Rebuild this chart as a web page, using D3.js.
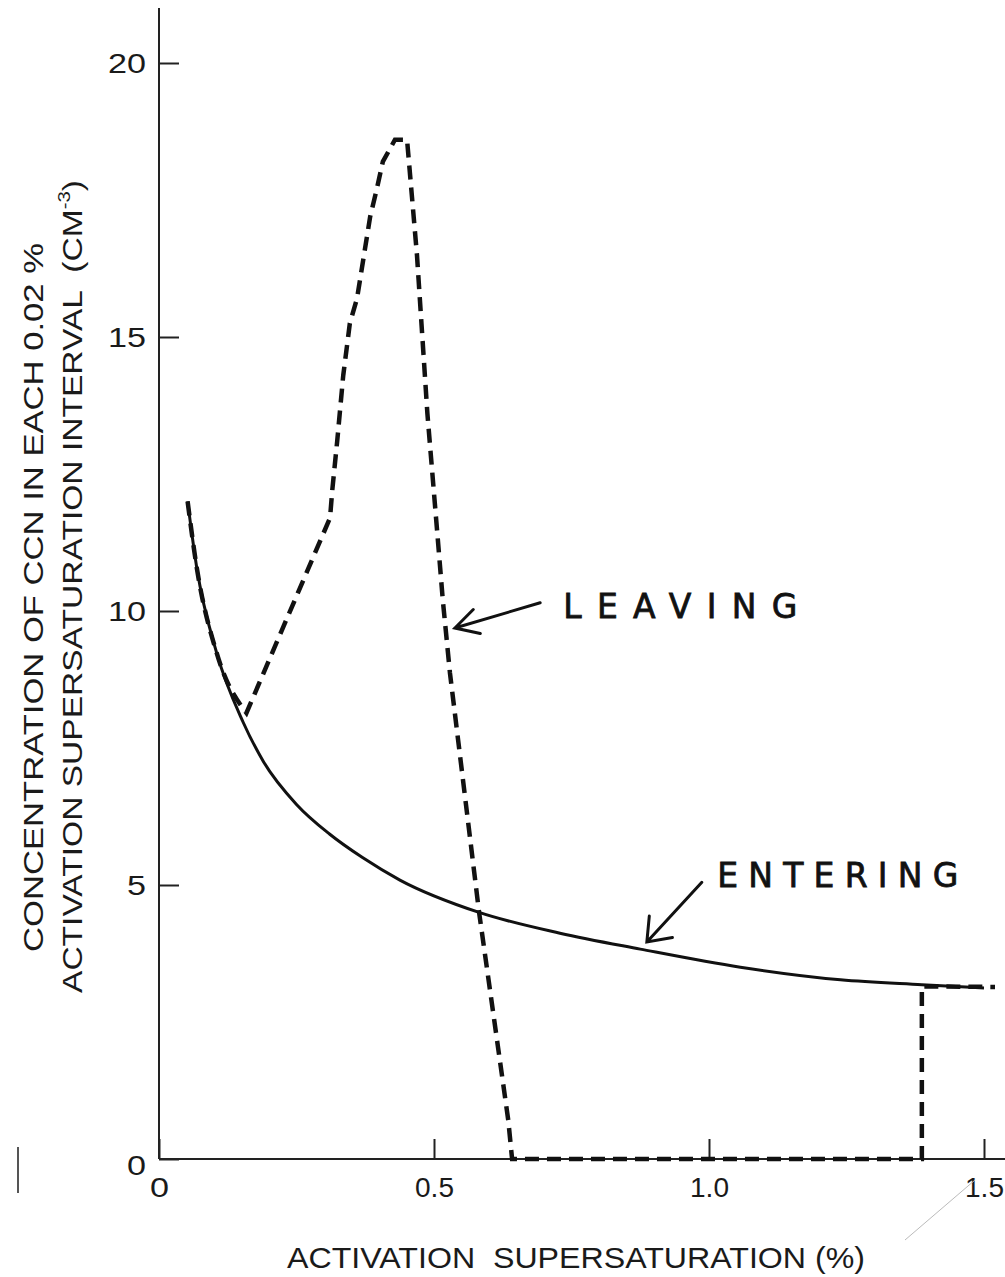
<!DOCTYPE html>
<html>
<head>
<meta charset="utf-8">
<script src="https://cdn.jsdelivr.net/npm/d3@7"></script>
<style>
body{margin:0;background:#fff;}
text{font-family:"Liberation Sans",Arial,sans-serif;fill:#1a1a1a;}
.hand{font-family:"DejaVu Sans",sans-serif;stroke:#111;stroke-width:0.8px;fill:#111;}
</style>
</head>
<body>
<div id="chart"></div>
<script>
// eixos
var ticksX = [0, 0.5, 1.0, 1.5];
var ticksY = [0, 5, 10, 15, 20];

// curva "entering" (linha cheia)
var enteringS = [0.052, 0.0685, 0.105, 0.153, 0.19, 0.25, 0.31, 0.37, 0.438, 0.582, 0.729, 0.875, 1.057, 1.239, 1.387, 1.5];
var enteringV = [12.0, 10.8, 9.23, 7.97, 7.25, 6.47, 5.93, 5.5, 5.09, 4.5, 4.12, 3.83, 3.5, 3.27, 3.18, 3.12];

// curva "leaving" (tracejada)
var leavingS = [0.052, 0.0685, 0.105, 0.159, 0.311, 0.315, 0.324, 0.335, 0.347, 0.36, 0.384, 0.396, 0.407, 0.429, 0.451, 0.469, 0.488, 0.507, 0.516, 0.529, 0.582, 0.635, 0.642, 1.387, 1.387, 1.52];
var leavingV = [12.0, 10.8, 9.23, 8.14, 11.7, 12.2, 13.1, 14.3, 15.25, 15.7, 17.2, 17.7, 18.2, 18.6, 18.6, 16.5, 13.6, 11.3, 10.2, 8.87, 4.5, 0.71, 0, 0, 3.15, 3.14];

// anotações: ponta da seta, cauda, início do texto (em unidades dos dados)
var labels = ["LEAVING", "ENTERING"];
var labelTip = [[0.538, 9.69], [0.887, 3.96]];
var labelTail = [[0.693, 10.15], [0.987, 5.05]];
var labelPos = [[0.735, 9.87], [1.015, 4.96]];

var width = 1005, height = 1277;
var svg = d3.select('#chart').append('svg')
	.attr('width', width).attr('height', height);

var x = d3.scaleLinear().domain([0, 1.5]).range([159, 984]);
var y = d3.scaleLinear().domain([0, 20]).range([1159, 63]);

var fmtX = function(d){ return d === 0 ? "0" : d3.format(".1f")(d); };

// largura dos rótulos (letreiro largo do original)
function labelWidth(t){
	if(t.length === 1) return 19;
	if(t.indexOf('.') >= 0) return 39;
	return 38;
}

// eixo x
var gx = svg.append('g').attr('transform', 'translate(0,' + y(0) + ')')
	.call(d3.axisBottom(x).tickValues(ticksX).tickFormat(fmtX)
		.tickSize(-20).tickSizeOuter(0).tickPadding(18));
gx.select('.domain').remove();
gx.append('line').attr('x1', x(0)).attr('x2', width).attr('y1', 0).attr('y2', 0);
gx.selectAll('line').attr('stroke', '#222').attr('stroke-width', 2);
gx.selectAll('text').attr('font-size', 28).attr('fill', '#1a1a1a')
	.attr('font-family', '"Liberation Sans",Arial,sans-serif')
	.attr('textLength', function(d){ return labelWidth(fmtX(d)); })
	.attr('lengthAdjust', 'spacingAndGlyphs');

// eixo y
var gy = svg.append('g').attr('transform', 'translate(' + x(0) + ',0)')
	.call(d3.axisLeft(y).tickValues(ticksY).tickFormat(d3.format('d'))
		.tickSize(-20).tickSizeOuter(0).tickPadding(13));
gy.select('.domain').remove();
gy.append('line').attr('x1', 0).attr('x2', 0).attr('y1', 8).attr('y2', y(0));
gy.selectAll('line').attr('stroke', '#222').attr('stroke-width', 2);
gy.selectAll('text').attr('font-size', 28).attr('fill', '#1a1a1a')
	.attr('font-family', '"Liberation Sans",Arial,sans-serif')
	.attr('textLength', function(d){ return labelWidth(String(d)); })
	.attr('lengthAdjust', 'spacingAndGlyphs')
	.attr('dy', function(d){ return d === 0 ? '0.55em' : '0.34em'; });

// títulos
svg.append('text')
	.attr('x', 287).attr('y', 1268)
	.attr('font-size', 29)
	.attr('textLength', 578).attr('lengthAdjust', 'spacingAndGlyphs')
	.style('white-space', 'pre')
	.text('ACTIVATION  SUPERSATURATION (%)');

svg.append('text')
	.attr('transform', 'translate(43,952) rotate(-90)')
	.attr('font-size', 28)
	.attr('textLength', 709).attr('lengthAdjust', 'spacingAndGlyphs')
	.style('white-space', 'pre')
	.text('CONCENTRATION OF CCN IN EACH 0.02 %');

var t2 = svg.append('text')
	.attr('transform', 'translate(82,993) rotate(-90)')
	.attr('font-size', 28)
	.attr('textLength', 813).attr('lengthAdjust', 'spacingAndGlyphs')
	.style('white-space', 'pre');
t2.append('tspan').text('ACTIVATION SUPERSATURATION INTERVAL  (CM');
t2.append('tspan').attr('font-size', 17).attr('dy', -12).text('-3');
t2.append('tspan').attr('dy', 12).text(')');

// curvas
var entering = enteringS.map(function(s, i){ return {s: s, v: enteringV[i]}; });
var leaving = leavingS.map(function(s, i){ return {s: s, v: leavingV[i]}; });

var lineSmooth = d3.line()
	.x(function(d){ return x(d.s); })
	.y(function(d){ return y(d.v); })
	.curve(d3.curveMonotoneX);

var lineRaw = d3.line()
	.x(function(d){ return x(d.s); })
	.y(function(d){ return y(d.v); });

svg.append('path').datum(entering)
	.attr('d', lineSmooth)
	.attr('fill', 'none').attr('stroke', '#111')
	.attr('stroke-width', 3);

// trecho inicial segue a curva cheia (suave), o resto é traçado à mão (reto)
var leavingPath = lineSmooth(leaving.slice(0, 4)) + lineRaw(leaving.slice(3)).replace(/^M/, 'L');
svg.append('path')
	.attr('d', leavingPath)
	.attr('fill', 'none').attr('stroke', '#111')
	.attr('stroke-width', 4.5)
	.attr('stroke-dasharray', '14,8');

// anotações com setas
labels.forEach(function(lb, i){
	var tip = [x(labelTip[i][0]), y(labelTip[i][1])];
	var tail = [x(labelTail[i][0]), y(labelTail[i][1])];
	var ang = Math.atan2(tail[1] - tip[1], tail[0] - tip[0]);
	var spread = i === 0 ? 0.5 : 0.65, len = 26;
	var w1 = [tip[0] + len * Math.cos(ang - spread), tip[1] + len * Math.sin(ang - spread)];
	var w2 = [tip[0] + len * Math.cos(ang + spread), tip[1] + len * Math.sin(ang + spread)];
	svg.append('path')
		.attr('d', 'M' + tail + 'L' + tip + 'M' + w1 + 'L' + tip + 'L' + w2)
		.attr('fill', 'none').attr('stroke', '#111')
		.attr('stroke-width', 3).attr('stroke-linecap', 'round');
	svg.append('text').attr('class', 'hand')
		.attr('x', x(labelPos[i][0])).attr('y', y(labelPos[i][1]))
		.attr('font-size', 33)
		.attr('textLength', i === 0 ? 234 : 241)
		.attr('lengthAdjust', 'spacing')
		.text(lb);
});

// marcas do papel escaneado
svg.append('line').attr('x1', 18).attr('x2', 18).attr('y1', 1147).attr('y2', 1193)
	.attr('stroke', '#555').attr('stroke-width', 2);
svg.append('line').attr('x1', 905).attr('x2', 975).attr('y1', 1240).attr('y2', 1180)
	.attr('stroke', '#bbb').attr('stroke-width', 1);
</script>
</body>
</html>
